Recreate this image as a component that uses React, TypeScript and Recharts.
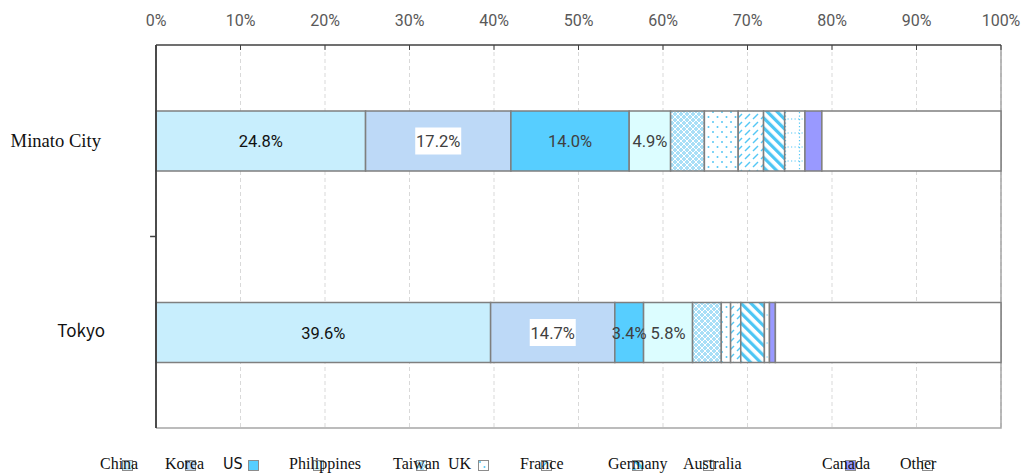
import React from "react";
import {
  BarChart,
  Bar,
  XAxis,
  YAxis,
  CartesianGrid,
  ReferenceArea,
  ReferenceLine,
  LabelList,
} from "recharts";

// categories
const regions = ["Minato City", "Tokyo"];

// share of foreign residents by nationality (%)
const seriesNames = [
  "China",
  "Korea",
  "US",
  "Philippines",
  "Taiwan",
  "UK",
  "France",
  "Germany",
  "Australia",
  "Canada",
  "Other",
];
const china = [24.8, 39.6];
const korea = [17.2, 14.7];
const us = [14.0, 3.4];
const philippines = [4.9, 5.8];
const taiwan = [4.0, 3.4];
const uk = [4.0, 1.1];
const france = [3.0, 1.2];
const germany = [2.5, 2.8];
const australia = [2.4, 0.6];
const canada = [2.0, 0.7];
const other = [21.2, 26.7];

const xTicks = [0, 10, 20, 30, 40, 50, 60, 70, 80, 90, 100];

const seriesValues = [china, korea, us, philippines, taiwan, uk, france, germany, australia, canada, other];

const data = regions.map((region, i) => {
  const row: Record<string, string | number> = { region };
  seriesNames.forEach((name, s) => {
    row[name] = seriesValues[s][i];
  });
  return row;
});

const fills: Record<string, string> = {
  China: "#C8EEFD",
  Korea: "#BDD9F7",
  US: "#57CEFF",
  Philippines: "#DCFDFF",
  Taiwan: "url(#pTaiwan)",
  UK: "url(#pUK)",
  France: "url(#pFrance)",
  Germany: "url(#pGermany)",
  Australia: "url(#pAustralia)",
  Canada: "#9999FF",
  Other: "#FFFFFF",
};

// legend layout (text left / swatch left, px)
const legendTextX = [100, 165, 223, 289, 393, 448, 520, 608, 683, 822, 900];
const legendSwatchX = [122, 185, 248, 313, 416, 478, 541, 632, 703, 845, 922];

const BLUE = "#55C8F5";

function Patterns() {
  return (
    <defs>
      <pattern id="pTaiwan" width="6" height="6" patternUnits="userSpaceOnUse">
        <rect width="6" height="6" fill="#A8DFF7" />
        <path d="M0,0 L6,6 M6,0 L0,6" stroke="#FFFFFF" strokeWidth="1" />
      </pattern>
      <pattern id="pUK" width="9" height="10" patternUnits="userSpaceOnUse">
        <rect width="9" height="10" fill="#FFFFFF" />
        <circle cx="2" cy="2" r="1" fill={BLUE} />
        <circle cx="6.5" cy="7" r="1" fill={BLUE} />
      </pattern>
      <pattern id="pFrance" width="8" height="8" patternUnits="userSpaceOnUse">
        <rect width="8" height="8" fill="#FFFFFF" />
        <path d="M1,7 L6,2" stroke={BLUE} strokeWidth="1.5" />
      </pattern>
      <pattern
        id="pGermany"
        width="7"
        height="7"
        patternUnits="userSpaceOnUse"
        patternTransform="rotate(-45)"
      >
        <rect width="7" height="7" fill="#FFFFFF" />
        <rect width="3.2" height="7" fill="#4DC6F4" />
      </pattern>
      <pattern id="pAustralia" width="14" height="14" patternUnits="userSpaceOnUse">
        <rect width="14" height="14" fill="#FFFFFF" />
        <path d="M1.5,0 L1.5,14" stroke={BLUE} strokeWidth="1.2" strokeDasharray="1.2 2.3" />
        <path d="M0,7 L14,7" stroke={BLUE} strokeWidth="1.2" strokeDasharray="1.2 2.3" />
      </pattern>
    </defs>
  );
}

function makeLabel(color: string, withBg: boolean) {
  return (props: any) => {
    const { x, y, width, height, value } = props;
    const cx = Number(x) + Number(width) / 2;
    const cy = Number(y) + Number(height) / 2;
    const text = `${Number(value).toFixed(1)}%`;
    return (
      <g>
        {withBg && <rect x={cx - 23} y={cy - 13.5} width={46} height={27} fill="#FFFFFF" />}
        <text
          x={cx}
          y={cy + 6}
          textAnchor="middle"
          fill={color}
          fontSize={16.5}
          fontFamily="Roboto, sans-serif"
        >
          {text}
        </text>
      </g>
    );
  };
}

const labelStyle: Record<string, { color: string; bg: boolean }> = {
  China: { color: "#111111", bg: false },
  Korea: { color: "#404040", bg: true },
  US: { color: "#404040", bg: false },
  Philippines: { color: "#404040", bg: false },
};

const regionLabelStyle: Record<string, { x: number; dy: number; size: number; font: string }> = {
  "Minato City": { x: 101, dy: 6, size: 18.6, font: "'Liberation Serif', serif" },
  Tokyo: { x: 105, dy: 5, size: 17, font: "'Noto Sans CJK JP', sans-serif" },
};

function RegionTick(props: any) {
  const { y, payload } = props;
  const s = regionLabelStyle[payload.value];
  return (
    <text
      x={s.x}
      y={Number(y) + s.dy}
      textAnchor="end"
      fill="#111111"
      fontSize={s.size}
      fontFamily={s.font}
    >
      {payload.value}
    </text>
  );
}

// plot frame: only right and bottom edges (top/left are the axes)
function FrameShape(props: any) {
  const { x, y, width, height } = props;
  return (
    <path
      d={`M${x},${y + height} H${x + width} V${y}`}
      fill="none"
      stroke="#A6A6A6"
      strokeWidth={1.5}
    />
  );
}

export default function App() {
  return (
    <div style={{ position: "absolute", left: 0, top: 0, width: 1025, height: 474, background: "#fff" }}>
      <BarChart
        width={1025}
        height={474}
        layout="vertical"
        data={data}
        margin={{ top: 15, right: 24, bottom: 46, left: 155 }}
        barCategoryGap={0}
      >
        <Patterns />
        <CartesianGrid
          yAxisId="cat"
          horizontal={false}
          vertical
          stroke="#D9D9D9"
          strokeDasharray="4 3"
        />
        <XAxis
          type="number"
          orientation="top"
          height={30}
          domain={[0, 100]}
          ticks={xTicks}
          tickFormatter={(v) => `${v}%`}
          axisLine={{ stroke: "#404040", strokeWidth: 1.5 }}
          tickLine={{ stroke: "#404040" }}
          tickSize={-5}
          tickMargin={24}
          tick={{ fill: "#595959", fontSize: 16, fontFamily: "Roboto, sans-serif" }}
          interval={0}
        />
        <YAxis
          yAxisId="cat"
          type="category"
          dataKey="region"
          width={1}
          axisLine={{ stroke: "#404040", strokeWidth: 1.5 }}
          tickLine={false}
          tick={<RegionTick />}
          interval={0}
        />
        <ReferenceArea
          yAxisId="cat"
          x1={0}
          x2={100}
          ifOverflow="visible"
          shape={<FrameShape />}
        />
        {/* left value-axis line at 0% */}
        <ReferenceLine yAxisId="cat" x={0} stroke="#404040" strokeWidth={1.5} ifOverflow="visible" />
        {/* category separator tick on the left axis */}
        <ReferenceLine
          yAxisId="cat"
          position="start"
          segment={[
            { x: -0.7, y: regions[1] },
            { x: 0, y: regions[1] },
          ]}
          stroke="#404040"
          strokeWidth={1.5}
          ifOverflow="visible"
        />
        {seriesNames.map((name) => (
          <Bar
            key={name}
            dataKey={name}
            yAxisId="cat"
            stackId="a"
            fill={fills[name]}
            stroke="#7F7F7F"
            strokeWidth={1.5}
            barSize={60}
            isAnimationActive={false}
          >
            {labelStyle[name] && (
              <LabelList
                dataKey={name}
                content={makeLabel(labelStyle[name].color, labelStyle[name].bg)}
              />
            )}
          </Bar>
        ))}
      </BarChart>
      {seriesNames.map((name, i) => (
        <React.Fragment key={name}>
          <svg
            width={11}
            height={11}
            style={{ position: "absolute", left: legendSwatchX[i], top: 460 }}
          >
            <rect x={0.5} y={0.5} width={10} height={10} fill={fills[name]} stroke="#8C8C8C" />
          </svg>
          <div
            style={{
              position: "absolute",
              left: legendTextX[i],
              top: 456,
              fontSize: 16,
              lineHeight: 1,
              fontFamily:
                name === "US" ? "'DejaVu Sans Condensed', sans-serif" : "'Liberation Serif', serif",
              color: "#111",
              whiteSpace: "nowrap",
            }}
          >
            {name}
          </div>
        </React.Fragment>
      ))}
    </div>
  );
}
